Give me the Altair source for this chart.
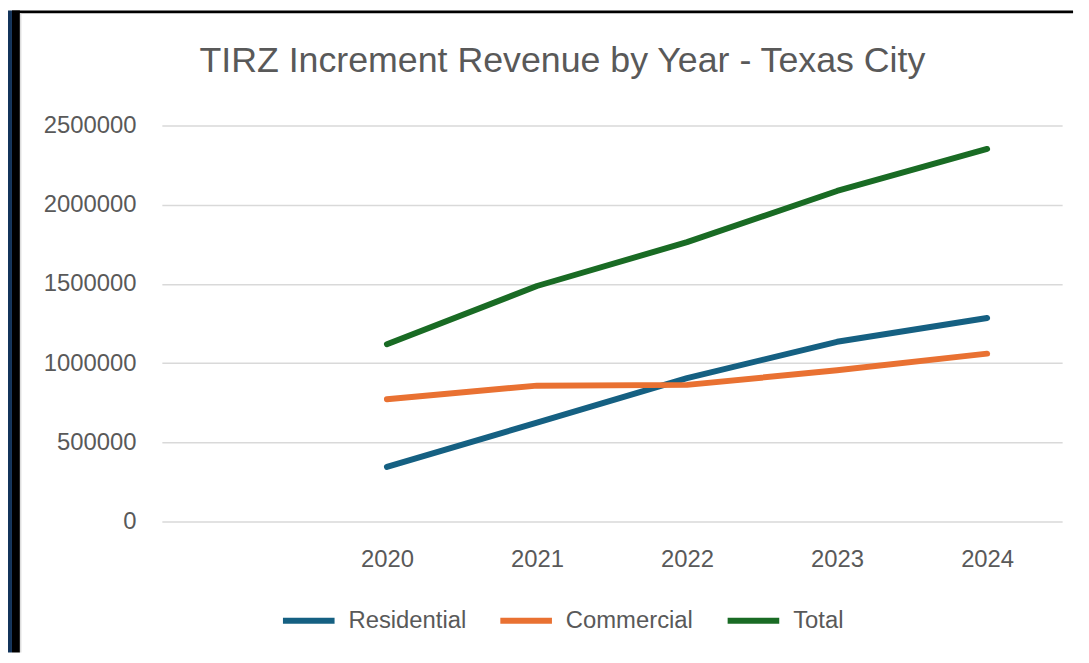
import altair as alt
import pandas as pd

years = ["2020", "2021", "2022", "2023", "2024"]
residential = [345000, 625000, 905000, 1135000, 1285000]
commercial = [772000, 858000, 863000, 955000, 1060000]
total = [1120000, 1487000, 1764000, 2087000, 2352000]
series = ["Residential", "Commercial", "Total"]
colors = ["#156082", "#E97132", "#196B24"]
y_ticks = [0, 500000, 1000000, 1500000, 2000000, 2500000]
title_text = "TIRZ Increment Revenue by Year - Texas City"

rows = []
for name, vals in zip(series, [residential, commercial, total]):
    for yr, v in zip(years, vals):
        rows.append({"Year": yr, "Series": name, "Value": v})
df = pd.DataFrame(rows)

W, H = 907, 399
FONT = "Liberation Sans"
TXT = "#595959"

lines = alt.Chart(df).mark_line(
    strokeWidth=6, strokeCap="round", strokeJoin="round"
).encode(
    x=alt.X(
        "Year:O",
        scale=alt.Scale(type="point", domain=years, padding=1, align=0.75),
        axis=alt.Axis(title=None, labelAngle=0, ticks=False, domain=False, grid=False,
                      labelFontSize=24, labelColor=TXT, labelPadding=26, labelFont=FONT),
    ),
    y=alt.Y(
        "Value:Q",
        scale=alt.Scale(domain=[0, 2500000], nice=False, zero=True),
        axis=alt.Axis(title=None, values=y_ticks, format="d", ticks=False, domain=False,
                      grid=True, gridColor="#D9D9D9", gridWidth=1.5,
                      labelFontSize=24, labelColor=TXT, labelPadding=26, labelFont=FONT),
    ),
    color=alt.Color(
        "Series:N",
        scale=alt.Scale(domain=series, range=colors),
        legend=alt.Legend(title=None, orient="none", legendX=119, legendY=470,
                          direction="horizontal", symbolType="stroke", symbolSize=2704,
                          symbolStrokeWidth=6, labelFontSize=24, labelColor=TXT,
                          labelFont=FONT, labelOffset=11, columnPadding=22, padding=0),
    ),
)

frame_df = pd.DataFrame({"k": [0]})


def strip(x1, x2, y1, y2, color):
    return alt.Chart(frame_df).mark_rect(color=color).encode(
        x=alt.value(x1), x2=alt.value(x2), y=alt.value(y1), y2=alt.value(y2)
    )


decor = [
    strip(-155, -151, -116, 531, "#13345B"),
    strip(-151, -143, -116, 531, "#000000"),
    strip(-151, 918, -116, -113, "#000000"),
    strip(-143, -141.5, -113, 531, "#DDDDDD"),
]

chart = alt.layer(*decor, lines).properties(
    width=W,
    height=H,
    title=alt.TitleParams(title_text, fontSize=36, color=TXT, font=FONT, fontWeight="normal",
                          anchor="middle", frame="group", dx=-50, offset=-106,
                          baseline="bottom"),
    padding={"left": 155, "top": 116, "right": 19, "bottom": 132},
    autosize="none",
    background="white",
).configure_view(stroke=None)

chart.save("out.html", embed_options={"renderer": "svg", "actions": False})
